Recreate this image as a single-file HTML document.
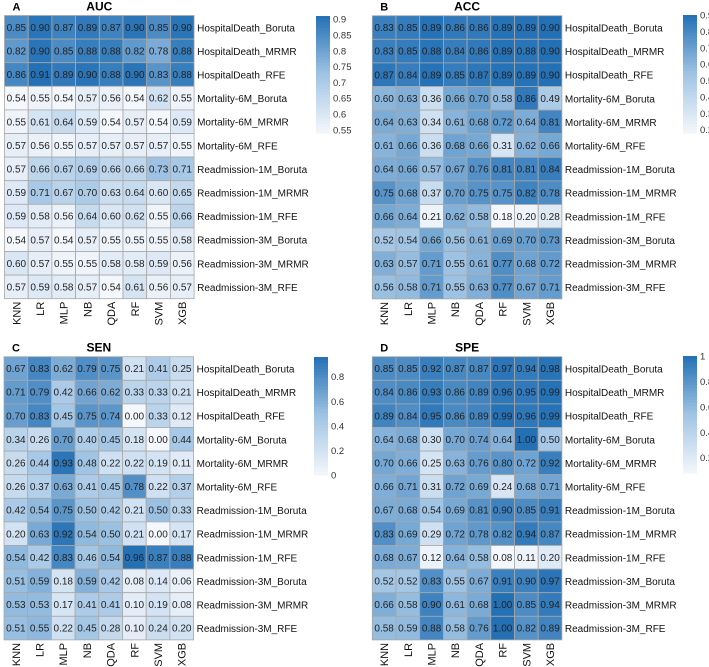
<!DOCTYPE html>
<html><head><meta charset="utf-8"><style>
body{margin:0;background:#fff;width:709px;height:667px;overflow:hidden}
svg{display:block;font-family:"Liberation Sans",sans-serif}
</style></head><body>
<svg id="c" width="709" height="667"></svg>
<script>
const models=["KNN","LR","MLP","NB","QDA","RF","SVM","XGB"];
const rowsNames=["HospitalDeath_Boruta","HospitalDeath_MRMR","HospitalDeath_RFE","Mortality-6M_Boruta","Mortality-6M_MRMR","Mortality-6M_RFE","Readmission-1M_Boruta","Readmission-1M_MRMR","Readmission-1M_RFE","Readmission-3M_Boruta","Readmission-3M_MRMR","Readmission-3M_RFE"];
const aucValues=[
[0.85,0.90,0.87,0.89,0.87,0.90,0.85,0.90],
[0.82,0.90,0.85,0.88,0.88,0.82,0.78,0.88],
[0.86,0.91,0.89,0.90,0.88,0.90,0.83,0.88],
[0.54,0.55,0.54,0.57,0.56,0.54,0.62,0.55],
[0.55,0.61,0.64,0.59,0.54,0.57,0.54,0.59],
[0.57,0.56,0.55,0.57,0.57,0.57,0.57,0.55],
[0.57,0.66,0.67,0.69,0.66,0.66,0.73,0.71],
[0.59,0.71,0.67,0.70,0.63,0.64,0.60,0.65],
[0.59,0.58,0.56,0.64,0.60,0.62,0.55,0.66],
[0.54,0.57,0.54,0.57,0.55,0.55,0.55,0.58],
[0.60,0.57,0.55,0.55,0.58,0.58,0.59,0.56],
[0.57,0.59,0.58,0.57,0.54,0.61,0.56,0.57]];
const accValues=[
[0.83,0.85,0.89,0.86,0.86,0.89,0.89,0.90],
[0.83,0.85,0.88,0.84,0.86,0.89,0.88,0.90],
[0.87,0.84,0.89,0.85,0.87,0.89,0.89,0.90],
[0.60,0.63,0.36,0.66,0.70,0.58,0.86,0.49],
[0.64,0.63,0.34,0.61,0.68,0.72,0.64,0.81],
[0.61,0.66,0.36,0.68,0.66,0.31,0.62,0.66],
[0.64,0.66,0.57,0.67,0.76,0.81,0.81,0.84],
[0.75,0.68,0.37,0.70,0.75,0.75,0.82,0.78],
[0.66,0.64,0.21,0.62,0.58,0.18,0.20,0.28],
[0.52,0.54,0.66,0.56,0.61,0.69,0.70,0.73],
[0.63,0.57,0.71,0.55,0.61,0.77,0.68,0.72],
[0.56,0.58,0.71,0.55,0.63,0.77,0.67,0.71]];
const senValues=[
[0.67,0.83,0.62,0.79,0.75,0.21,0.41,0.25],
[0.71,0.79,0.42,0.66,0.62,0.33,0.33,0.21],
[0.70,0.83,0.45,0.75,0.74,0.00,0.33,0.12],
[0.34,0.26,0.70,0.40,0.45,0.18,0.00,0.44],
[0.26,0.44,0.93,0.48,0.22,0.22,0.19,0.11],
[0.26,0.37,0.63,0.41,0.45,0.78,0.22,0.37],
[0.42,0.54,0.75,0.50,0.42,0.21,0.50,0.33],
[0.20,0.63,0.92,0.54,0.50,0.21,0.00,0.17],
[0.54,0.42,0.83,0.46,0.54,0.96,0.87,0.88],
[0.51,0.59,0.18,0.59,0.42,0.08,0.14,0.06],
[0.53,0.53,0.17,0.41,0.41,0.10,0.19,0.08],
[0.51,0.55,0.22,0.45,0.28,0.10,0.24,0.20]];
const speValues=[
[0.85,0.85,0.92,0.87,0.87,0.97,0.94,0.98],
[0.84,0.86,0.93,0.86,0.89,0.96,0.95,0.99],
[0.89,0.84,0.95,0.86,0.89,0.99,0.96,0.99],
[0.64,0.68,0.30,0.70,0.74,0.64,1.00,0.50],
[0.70,0.66,0.25,0.63,0.76,0.80,0.72,0.92],
[0.66,0.71,0.31,0.72,0.69,0.24,0.68,0.71],
[0.67,0.68,0.54,0.69,0.81,0.90,0.85,0.91],
[0.83,0.69,0.29,0.72,0.78,0.82,0.94,0.87],
[0.68,0.67,0.12,0.64,0.58,0.08,0.11,0.20],
[0.52,0.52,0.83,0.55,0.67,0.91,0.90,0.97],
[0.66,0.58,0.90,0.61,0.68,1.00,0.85,0.94],
[0.58,0.59,0.88,0.58,0.76,1.00,0.82,0.89]];
const aucTicks=[0.55,0.6,0.65,0.7,0.75,0.8,0.85,0.9];
const accTicks=[0.2,0.3,0.4,0.5,0.6,0.7,0.8,0.9];
const senTicks=[0,0.2,0.4,0.6,0.8];
const speTicks=[0.2,0.4,0.6,0.8,1];

const NS="http://www.w3.org/2000/svg";
const svg=document.getElementById('c');
function mk(tag,attrs,parent){const e=document.createElementNS(NS,tag);for(const k in attrs)e.setAttribute(k,attrs[k]);(parent||svg).appendChild(e);return e;}
const stops=[[244,247,252],[160,196,228],[35,112,181]];
function col(t){t=Math.max(0,Math.min(1,t));let a,b,u;if(t<0.5){a=stops[0];b=stops[1];u=t/0.5;}else{a=stops[1];b=stops[2];u=(t-0.5)/0.5;}
return "rgb("+a.map((v,i)=>Math.round(v+(b[i]-v)*u)).join(",")+")";}

function panel(id,letter,title,vals,ticks,gx,gy,lx,ly1,ly2,fmt){
  const g=mk('g',{});
  
  
  const flat=vals.flat();const mn=Math.min(...flat),mx=Math.max(...flat);
  const cw=23.7,ch=23.6;
  const xS=j=>gx+j*cw, yS=i=>gy+i*ch;
  const L=mk('text',{x:gx+8,y:gy-5,'font-size':11,'font-weight':'bold'},g);L.textContent=letter;
  
  const T=mk('text',{x:gx+8*cw/2,y:gy-5,'font-size':12,'font-weight':'bold','text-anchor':'middle'},g);T.textContent=title;
  
  vals.forEach((row,i)=>{row.forEach((v,j)=>{
    const r=mk('rect',{x:xS(j),y:yS(i),width:cw,height:ch,fill:col((v-mn)/(mx-mn)),stroke:'#a8a8a8','stroke-width':0.8},g);
    
    
    const t=mk('text',{x:xS(j)+cw/2,y:yS(i)+ch/2+3.6,'font-size':10,'text-anchor':'middle',fill:'#222'},g);
    t.textContent=v.toFixed(2);
    
    
  });
  const rl=mk('text',{x:xS(8)+3,y:yS(i)+ch/2+4,'font-size':10,fill:'#111'},g);rl.textContent=rowsNames[i];
  
  
  });
  models.forEach((m,j)=>{
    const x=xS(j)+cw/2+4, y=yS(12)+3;
    const t=mk('text',{x:x,y:y,'font-size':11,'text-anchor':'end',transform:`rotate(-90 ${x} ${y})`,fill:'#111'},g);
    t.textContent=m;
    
    
  });
  const n=40,h=(ly2-ly1)/n;
  for(let k=0;k<n;k++){
    const r=mk('rect',{x:lx,y:ly1+k*h,width:14,height:h+0.5,fill:col(1-(k+0.5)/n)},g);
    
    
  }
  ticks.forEach(tv=>{
    const y=ly1+(mx-tv)/(mx-mn)*(ly2-ly1);
    const t=mk('text',{x:lx+17,y:y+3.5,'font-size':9.5,fill:'#333'},g);
    t.textContent=fmt(tv);
    
    
  });
}
const f2=v=>String(+v.toFixed(2));
panel('a','A','AUC',aucValues,aucTicks,4.5,15.5,316,16,133,f2);
panel('b','B','ACC',accValues,accTicks,372.3,15.7,683,15,133,f2);
panel('c','C','SEN',senValues,senTicks,4,356.7,314,357,475,f2);
panel('d','D','SPE',speValues,speTicks,372.3,356.7,683,356,473,f2);
</script>
</body></html>
